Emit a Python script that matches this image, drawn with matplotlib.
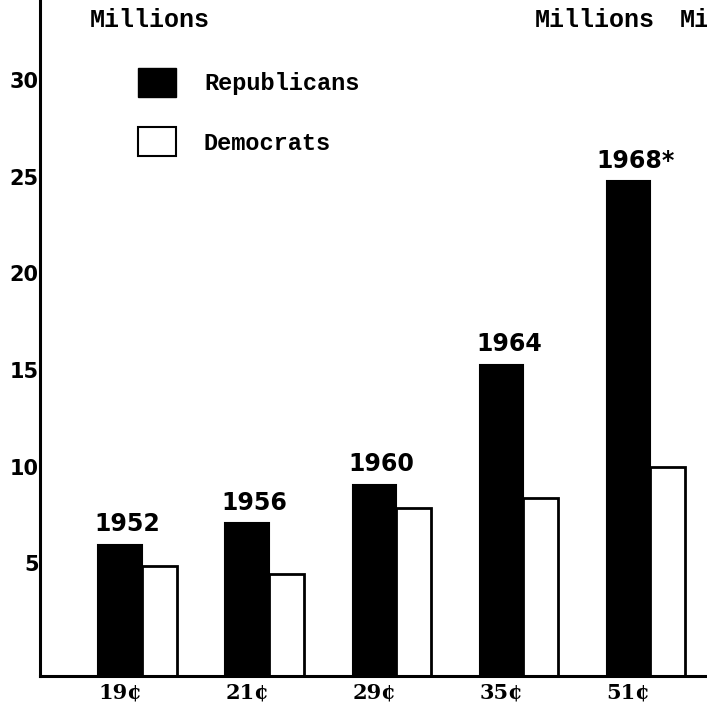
import matplotlib
matplotlib.use('Agg')
import matplotlib.pyplot as plt
import matplotlib.transforms as mtransforms
from matplotlib.patches import Patch
import numpy as np

# data (millions)
years = ['1952', '1956', '1960', '1964', '1968*']
cost_labels = ['19¢', '21¢', '29¢', '35¢', '51¢']
republicans = [6.8, 7.9, 9.9, 16.1, 25.6]
democrats = [5.7, 5.3, 8.7, 9.2, 10.8]
yticks = [5, 10, 15, 20, 25, 30]

mono = 'Liberation Mono'

fig = plt.figure(figsize=(7.07, 7.10), dpi=100)
ax = fig.add_axes([40 / 707, 34 / 710, 667 / 707, 676 / 710])

x = np.arange(len(years))
w_r = 0.34
w_d = 0.28

bars_r = ax.bar(x, republicans, w_r, color='black', edgecolor='black', linewidth=1.5)
bars_d = ax.bar(x + w_r / 2 + w_d / 2, democrats, w_d, color='white',
                edgecolor='black', linewidth=2)

ax.set_xlim(-0.63, 4.62)
ax.set_ylim(0, 34.97)

# only the left and bottom lines, no tick marks
for s in ['top', 'right']:
    ax.spines[s].set_visible(False)
ax.spines['left'].set_linewidth(2.2)
ax.spines['bottom'].set_linewidth(2.2)

ax.set_yticks(yticks)
ax.set_yticklabels([str(v) for v in yticks], fontsize=15, fontweight='bold')
ax.tick_params(axis='y', length=0, pad=1)
# labels sit a bit above their gridline in the original
shift = mtransforms.ScaledTranslation(0, 0.16, fig.dpi_scale_trans)
for lab in ax.get_yticklabels():
    lab.set_transform(lab.get_transform() + shift)

ax.set_xticks(x)
ax.set_xticklabels(cost_labels, fontsize=15, fontweight='bold', family='DejaVu Serif')
ax.tick_params(axis='x', length=0, pad=5)

# year labels over the republican bars
for xi, r, yr in zip(x, republicans, years):
    ax.annotate(yr, xy=(xi + 0.06, r), xytext=(0, 6), textcoords='offset points',
                ha='center', va='bottom', fontsize=17, fontweight='bold')

# "Millions" headings (the right one is cut off in the original scan too)
fig.text(150 / 707, 1 - 20 / 710, 'Millions', family=mono, fontweight='bold',
         fontsize=18, ha='center', va='center')
fig.text(595 / 707, 1 - 20 / 710, 'Millions', family=mono, fontweight='bold',
         fontsize=18, ha='center', va='center')
fig.text(680 / 707, 1 - 20 / 710, 'Mi', family=mono, fontweight='bold',
         fontsize=18, ha='left', va='center')

handles = [Patch(facecolor='black', edgecolor='black', label='Republicans'),
           Patch(facecolor='white', edgecolor='black', linewidth=1.5, label='Democrats')]
leg = ax.legend(handles=handles, loc='upper left',
                bbox_to_anchor=(126 / 707, 1 - 56 / 710), bbox_transform=fig.transFigure,
                frameon=False, borderpad=0, handlelength=1.6, handleheight=1.5,
                labelspacing=1.3, handletextpad=1.2,
                prop={'family': mono, 'weight': 'bold', 'size': 17})

fig.savefig('out.png', dpi=100)
